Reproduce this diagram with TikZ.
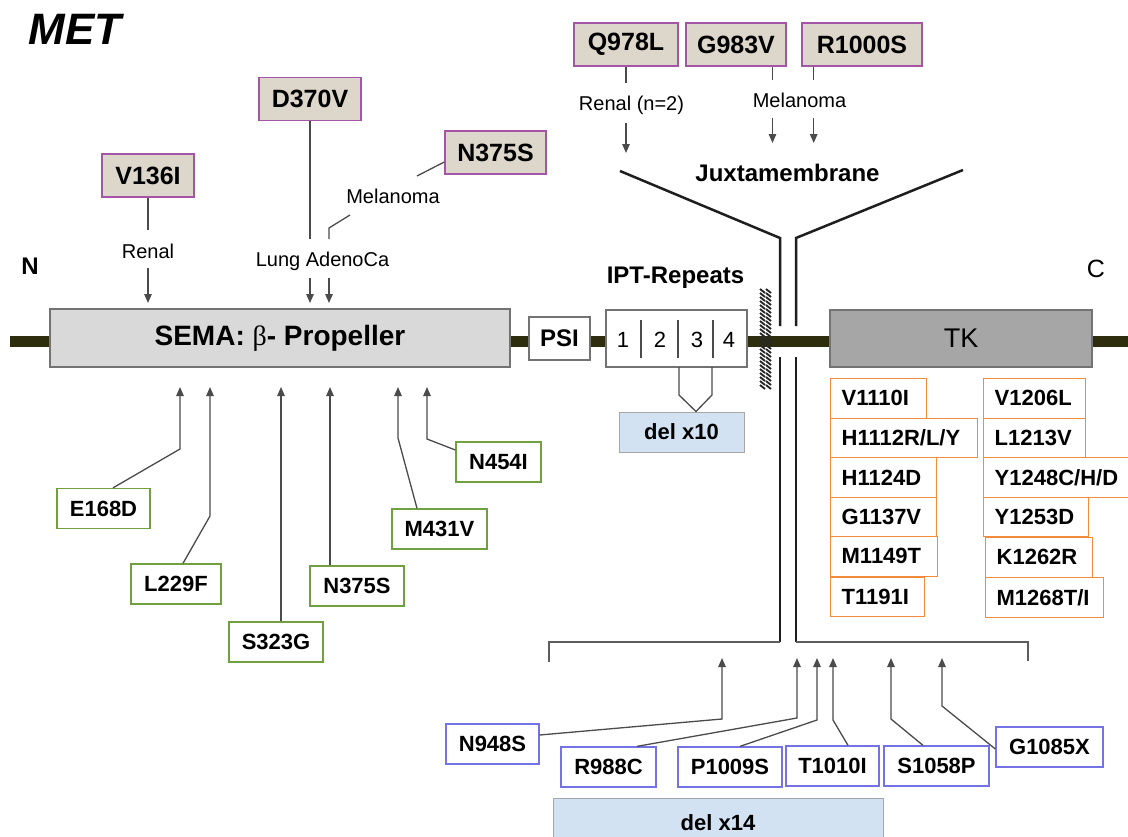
\documentclass[tikz,border=0pt]{standalone}
\usepackage{fontspec}
\setmainfont{Liberation Sans}
\newfontfamily\serifgreek{Liberation Serif}
\usetikzlibrary{arrows.meta}
\newcommand\myfs[1]{\fontsize{#1}{#1}\selectfont}
\definecolor{backbone}{RGB}{46,46,14}
\definecolor{semafill}{RGB}{217,217,217}
\definecolor{tkfill}{RGB}{166,166,166}
\definecolor{tanfill}{RGB}{221,215,203}
\definecolor{purp}{RGB}{165,85,165}
\definecolor{grn}{RGB}{112,160,64}
\definecolor{orng}{RGB}{240,140,60}
\definecolor{blu}{RGB}{115,115,230}
\definecolor{delfill}{RGB}{210,226,243}
\definecolor{lin}{RGB}{75,75,75}
\definecolor{ylin}{RGB}{30,30,30}
\tikzset{
  tanbox/.style={draw=purp, fill=tanfill, line width=1.5pt, font=\bfseries\myfs{25}, minimum height=43pt, inner sep=0pt},
  gbox/.style={draw=grn, fill=white, line width=1.3pt, font=\bfseries\myfs{22}, minimum height=40pt, inner sep=0pt},
  bbox/.style={draw=blu, fill=white, line width=1.3pt, font=\bfseries\myfs{22}, minimum height=40pt, inner sep=0pt},
  obox/.style={draw=orng, fill=white, line width=1.3pt, font=\bfseries\myfs{22}, minimum height=39.5pt, inner xsep=11pt, inner ysep=0pt, anchor=north west, align=left},
  delbox/.style={draw=gray!70, fill=delfill, line width=1pt, font=\bfseries\myfs{22}, inner sep=0pt},
  dom/.style={draw=gray!90!black, line width=1.5pt, inner sep=0pt},
  lbl/.style={font=\myfs{20}, inner sep=0pt},
  conn/.style={draw=lin, line width=1.3pt},
  arr/.style={conn, -{Triangle[length=9pt,width=7.5pt]}},
  yline/.style={draw=ylin, line width=2.5pt},
  brk/.style={draw=lin!90, line width=2pt}
}
\begin{document}
\begin{tikzpicture}[x=1pt,y=-1pt]
\useasboundingbox (0,0) rectangle (1128,836);
\fill[white] (0,0) rectangle (1128,836);

% title and termini
\node[font=\bfseries\itshape\myfs{44}, inner sep=0pt] (met) at (75,29) {MET};
\node[font=\bfseries\myfs{24}, inner sep=0pt] (nterm) at (30,266) {N};
\node[font=\myfs{25}, inner sep=0pt] (cterm) at (1096,269) {C};

% backbone
\coordinate (bbL) at (10,341);
\coordinate (bbR) at (1128,341);
\draw[backbone, line width=11pt] (bbL) -- (bbR);

% domains
\node[dom, fill=semafill, minimum width=460pt, minimum height=58pt, font=\bfseries\myfs{28}] (sema) at (280,338) {SEMA: {\serifgreek\mdseries β}- Propeller};
\node[dom, fill=white, minimum width=61pt, minimum height=43pt, font=\bfseries\myfs{24}] (psi) at (559.5,338.5) {PSI};
\node[dom, fill=white, minimum width=141pt, minimum height=57pt] (ipt) at (676.5,338.5) {};
\node[dom, fill=tkfill, minimum width=262pt, minimum height=57pt, font=\myfs{27}] (tk) at (961,338.5) {TK};
\foreach \xx/\nn/\lab in {623/r1/1,660/r2/2,697/r3/3,729/r4/4}
  \node[font=\myfs{22}, inner sep=0pt] (\nn) at (\xx,340) {\lab};
\foreach \xx in {641,678,713}
  \draw[lin, line width=1.2pt] (\xx,320) -- (\xx,358);
\node[font=\bfseries\myfs{24}, inner sep=0pt] (iptlab) at (675.5,278) {IPT-Repeats};

% membrane
\foreach \yy in {289,293,...,385} {
  \draw[black!85, line width=1.8pt] (760,\yy) -- (765,\yy+4);
  \draw[black!85, line width=1.8pt] (766,\yy) -- (771,\yy+4);
}

% juxtamembrane Y and bracket
\coordinate (yl0) at (620,171);
\coordinate (yl1) at (780,238);
\coordinate (yl2) at (780,326);
\coordinate (yl3) at (780,357);
\coordinate (yl4) at (780,642);
\coordinate (yl5) at (549,642);
\coordinate (yl6) at (549,662);
\coordinate (yr0) at (963,170);
\coordinate (yr1) at (796,238);
\coordinate (yr2) at (796,326);
\coordinate (yr3) at (796,357);
\coordinate (yr4) at (796,642);
\coordinate (yr5) at (1028,642);
\coordinate (yr6) at (1028,661);
\draw[yline] (yl0) -- (yl1) -- (yl2);
\draw[yline] (yr0) -- (yr1) -- (yr2);
\draw[yline, line width=2.2pt] (yl3) -- (yl4);
\draw[yline, line width=2.2pt] (yr3) -- (yr4);
\draw[brk] (yl4) -- (yl5) -- (yl6);
\draw[brk] (yr4) -- (yr5) -- (yr6);
\node[font=\bfseries\myfs{24}, inner sep=0pt] (jm) at (787.5,173) {Juxtamembrane};

% del x10
\node[delbox, minimum width=125pt, minimum height=40pt] (del10) at (681.5,432) {del x10};
\draw[conn] (679,367) -- (679,395) -- (del10.north -| 696,0) -- (712,395) -- (712,367);

% top mutations (SEMA)
\node[tanbox, minimum width=92pt] (v136) at (148,175.5) {V136I};
\node[tanbox, minimum width=102pt] (d370) at (310,99) {D370V};
\node[tanbox, minimum width=101pt] (n375t) at (495.5,152.5) {N375S};
\node[lbl] (renal) at (148,251) {Renal};
\node[lbl] (lung) at (322.5,261) {Lung AdenoCa};
\node[lbl] (mel1) at (393,196) {Melanoma};
\coordinate (tv136) at (148,303);
\coordinate (td370) at (310,303);
\coordinate (tn375) at (329,303);
\draw[conn] (v136.south) -- (v136.south |- 0,230);
\draw[arr] (148,268) -- (tv136);
\draw[conn] (d370.south) -- (310,239);
\draw[conn] ([yshift=-9.5pt]n375t.west) -- (417,176);
\draw[conn] (350,215) -- (329,228) -- (329,239);
\draw[arr] (310,278) -- (td370);
\draw[arr] (329,278) -- (tn375);

% top mutations (JM)
\node[tanbox, minimum width=104pt] (q978) at (626,44.5) {Q978L};
\node[tanbox, minimum width=100pt] (g983) at (736,44.5) {G983V};
\node[tanbox, minimum width=120pt] (r1000) at (862,44.5) {R1000S};
\node[lbl] (renal2) at (631.5,105) {Renal (n=2)};
\node[lbl] (mel2) at (799.5,100) {Melanoma};
\draw[conn] (q978.south) -- (626,83);
\draw[arr] (626,123) -- (626,153);
\draw[conn] (g983.south -| 772.5,0) -- (772.5,80);
\draw[conn] (r1000.south -| 813.7,0) -- (813.7,80);
\draw[arr] (772.5,118) -- (772.5,143);
\draw[arr] (813.7,118) -- (813.7,143);

% SEMA lower mutations
\node[gbox, minimum width=93pt] (e168) at (103.5,508.5) {E168D};
\node[gbox, minimum width=90pt] (l229) at (176,584) {L229F};
\node[gbox, minimum width=94pt] (s323) at (276,642) {S323G};
\node[gbox, minimum width=94pt] (n375b) at (357,586) {N375S};
\node[gbox, minimum width=95pt] (m431) at (439.5,529) {M431V};
\node[gbox, minimum width=85pt] (n454) at (498.5,462) {N454I};
\coordinate (te168) at (180,387);
\coordinate (tl229) at (210,387);
\coordinate (ts323) at (281,387);
\coordinate (tn375b) at (330,387);
\coordinate (tm431) at (398,387);
\coordinate (tn454) at (427,387);
\draw[arr] ([xshift=9.5pt]e168.north) -- (180,449) -- (te168);
\draw[arr] ([xshift=7pt]l229.north) -- (210,516) -- (tl229);
\draw[arr] ([xshift=5pt]s323.north) -- (ts323);
\draw[arr] ([xshift=-27pt]n375b.north) -- (tn375b);
\draw[arr] ([xshift=-22.5pt]m431.north) -- (398,438) -- (tm431);
\draw[arr] ([yshift=12pt]n454.west) -- (427,439) -- (tn454);

% kinase mutations
\node[obox, text width=74pt] (v1110) at (830,378) {V1110I};
\node[obox, text width=125pt] (h1112) at (830,417.5) {H1112R/L/Y};
\node[obox, text width=84pt] (h1124) at (830,457) {H1124D};
\node[obox, text width=84pt] (g1137) at (830,496.5) {G1137V};
\node[obox, text width=85pt] (m1149) at (830,536) {M1149T};
\node[obox, text width=72pt] (t1191) at (830,576.5) {T1191I};
\node[obox, text width=80pt] (v1206) at (983,378) {V1206L};
\node[obox, text width=80pt] (l1213) at (983,417.5) {L1213V};
\node[obox, text width=125pt] (y1248) at (983,457) {Y1248C/H/D};
\node[obox, text width=83pt] (y1253) at (983,496.5) {Y1253D};
\node[obox, text width=85pt] (k1262) at (985,537) {K1262R};
\node[obox, text width=96pt] (m1268) at (985,577) {M1268T/I};

% JM lower mutations
\node[bbox, minimum width=93pt] (n948) at (492.5,744) {N948S};
\node[bbox, minimum width=95pt] (r988) at (608.5,767) {R988C};
\node[bbox, minimum width=104pt] (p1009) at (730,767) {P1009S};
\node[bbox, minimum width=93pt] (t1010) at (832.5,766) {T1010I};
\node[bbox, minimum width=105pt] (s1058) at (936.5,766) {S1058P};
\node[bbox, minimum width=107pt] (g1085) at (1049.5,747) {G1085X};
\coordinate (tn948) at (722,658);
\coordinate (tr988) at (797,658);
\coordinate (tp1009) at (817,658);
\coordinate (tt1010) at (833,658);
\coordinate (ts1058) at (891,658);
\coordinate (tg1085) at (942,658);
\draw[arr] ([yshift=9pt]n948.east) -- (722,719) -- (tn948);
\draw[arr] ([xshift=28.5pt]r988.north) -- (797,718) -- (tr988);
\draw[arr] ([xshift=10pt]p1009.north) -- (817,720) -- (tp1009);
\draw[arr] ([xshift=15.5pt]t1010.north) -- (833,720) -- (tt1010);
\draw[arr] ([xshift=-13.5pt]s1058.north) -- (891,719) -- (ts1058);
\draw[arr] ([yshift=-2pt]g1085.west) -- (942,706) -- (tg1085);

% del x14
\node[delbox, minimum width=330pt, minimum height=56pt, anchor=north] (del14) at (718,798) {\raisebox{8pt}{del x14}};
\end{tikzpicture}
\end{document}
